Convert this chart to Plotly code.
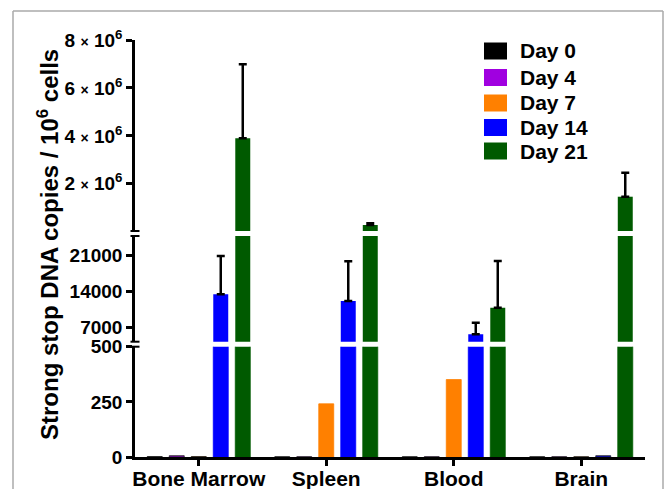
import numpy as np
import plotly.graph_objects as go

# ---------------- data ----------------
groups = ["Bone Marrow", "Spleen", "Blood", "Brain"]
days = ["Day 0", "Day 4", "Day 7", "Day 14", "Day 21"]
day0 = [2, 1, 1, 1]
day4 = [6, 1, 1, 1]
day7 = [2, 241, 351, 1]
day14 = [13450, 12150, 5650, 6]
day21 = [3900000, 280000, 10850, 1460000]
err14 = [7480, 7740, 2260, None]
err21 = [3090000, 70000, 9100, 1000000]
values = [day0, day4, day7, day14, day21]
errors = [None, None, None, err14, err21]
colors = ["#000000", "#A000E0", "#FF8000", "#0000FF", "#005A00"]

low_ticks = [0, 250, 500]
mid_ticks = [7000, 14000, 21000]
top_ticks = [2000000, 4000000, 6000000, 8000000]
top_mantissa = ["2", "4", "6", "8"]


def sci_label(m):
    return (m + " <span style='font-size:14px'>×</span> 10<sup>6</sup>")


top_labels = [sci_label(m) for m in top_mantissa]

# ---------------- layout geometry ----------------
OX, OY = 0, 0
W, H = 666, 489
L = 135 - OX
T = 40 - OY
R = W - (645 - OX)
B = H - (457 - OY)
PW, PH = W - L - R, H - T - B


def px_x(x):
    return (x - OX - L) / PW


def px_y(y):
    return (OY + H - B - y) / PH


# segments: (axis suffix, range, domain, tickvals, ticktext)
segments = [
    ("", [0, 500], [0, px_y(346.7)], low_ticks, [str(v) for v in low_ticks]),
    ("2", [4200, 24830], [px_y(341.7), px_y(236)], mid_ticks, [str(v) for v in mid_ticks]),
    ("3", [29000, 8000000], [px_y(231), 1], top_ticks, top_labels),
]

FONT = "Liberation Sans, Arial, sans-serif"

fig = go.Figure()
for seg_i, (suf, rng, dom, tv, tt) in enumerate(segments):
    for d, vals, err, col in zip(days, values, errors, colors):
        if seg_i == 0:
            line = dict(color=["#222222" if v < 10 else col for v in vals], width=0.8)
        else:
            line = dict(width=0)
        kw = {}
        if err is not None:
            up = np.array([e if (e is not None and rng[0] <= v <= rng[1]) else np.nan
                           for v, e in zip(vals, err)], dtype=float)
            down = np.where(np.isnan(up), np.nan, 0.0)
            kw["error_y"] = dict(type="data", array=up, arrayminus=down,
                                 symmetric=False, color="black", thickness=2.5, width=4)
        fig.add_trace(go.Bar(
            x=groups, y=vals, name=d, yaxis="y" + suf, xaxis="x",
            marker=dict(color=col, line=line),
            showlegend=False, **kw))

axis_common = dict(showline=True, linecolor="black", linewidth=2.5, ticks="outside",
                   ticklen=6, tickwidth=2.5, tickcolor="black", showgrid=False,
                   zeroline=False, automargin=False,
                   tickfont=dict(family=FONT, size=19, color="black", weight="bold"))

layout = dict(
    width=W, height=H,
    margin=dict(l=L, r=R, t=T, b=B, pad=0),
    plot_bgcolor="white", paper_bgcolor="white",
    barmode="group", bargap=0.137, bargroupgap=0.32,
    showlegend=False,
    xaxis=dict(anchor="y", range=[-0.5, 3.5], showline=True, linecolor="black",
               linewidth=2.5, ticks="outside", ticklen=6, tickwidth=2.5,
               tickcolor="black", showgrid=False, automargin=False,
               ticklabelstandoff=-5,
               tickfont=dict(family=FONT, size=21, color="black", weight="bold")),
)
for suf, rng, dom, tv, tt in segments:
    ax = dict(axis_common)
    ax.update(range=rng, domain=dom, tickvals=tv, ticktext=tt, anchor="x")
    layout["yaxis" + suf] = ax
fig.update_layout(**layout)

# axis break marks
for yb in [px_y(346.7), px_y(341.7), px_y(236), px_y(231)]:
    fig.add_shape(type="line", xref="paper", yref="paper",
                  x0=px_x(130.5), x1=px_x(139.5), y0=yb, y1=yb,
                  line=dict(color="black", width=2))

# y-axis title
fig.add_annotation(text="Strong stop DNA copies / 10<sup>6</sup> cells",
                   xref="paper", yref="paper", x=px_x(48), y=px_y(245),
                   textangle=-90, showarrow=False, xanchor="center", yanchor="middle",
                   font=dict(family=FONT, size=24, color="black", weight="bold"))

# legend (swatches + real text)
row_y = [51, 77.5, 103, 127.5, 151]
for d, col, ry in zip(days, colors, row_y):
    fig.add_shape(type="rect", xref="paper", yref="paper",
                  x0=px_x(484), x1=px_x(507), y0=px_y(ry - 8.5), y1=px_y(ry + 8.5),
                  fillcolor=col, line=dict(color=col, width=0))
    fig.add_annotation(text=d, xref="paper", yref="paper", x=px_x(518), y=px_y(ry),
                       xanchor="left", yanchor="middle", showarrow=False,
                       font=dict(family=FONT, size=21, color="black", weight="bold"))

# outer grey frame
frame = dict(color="#AAAAAA", width=1.5)
fig.add_shape(type="line", xref="paper", yref="paper", x0=px_x(13), x1=px_x(13),
              y0=px_y(11), y1=px_y(495), line=frame)
fig.add_shape(type="line", xref="paper", yref="paper", x0=px_x(13), x1=px_x(663),
              y0=px_y(11), y1=px_y(11), line=frame)
fig.add_shape(type="line", xref="paper", yref="paper", x0=px_x(663), x1=px_x(663),
              y0=px_y(11), y1=px_y(495), line=frame)

# remove the default 8px page margin so the 666x489 figure fills the window
fig.write_html("out.html", config={"displayModeBar": False},
               post_script="document.body.style.margin='0';")
